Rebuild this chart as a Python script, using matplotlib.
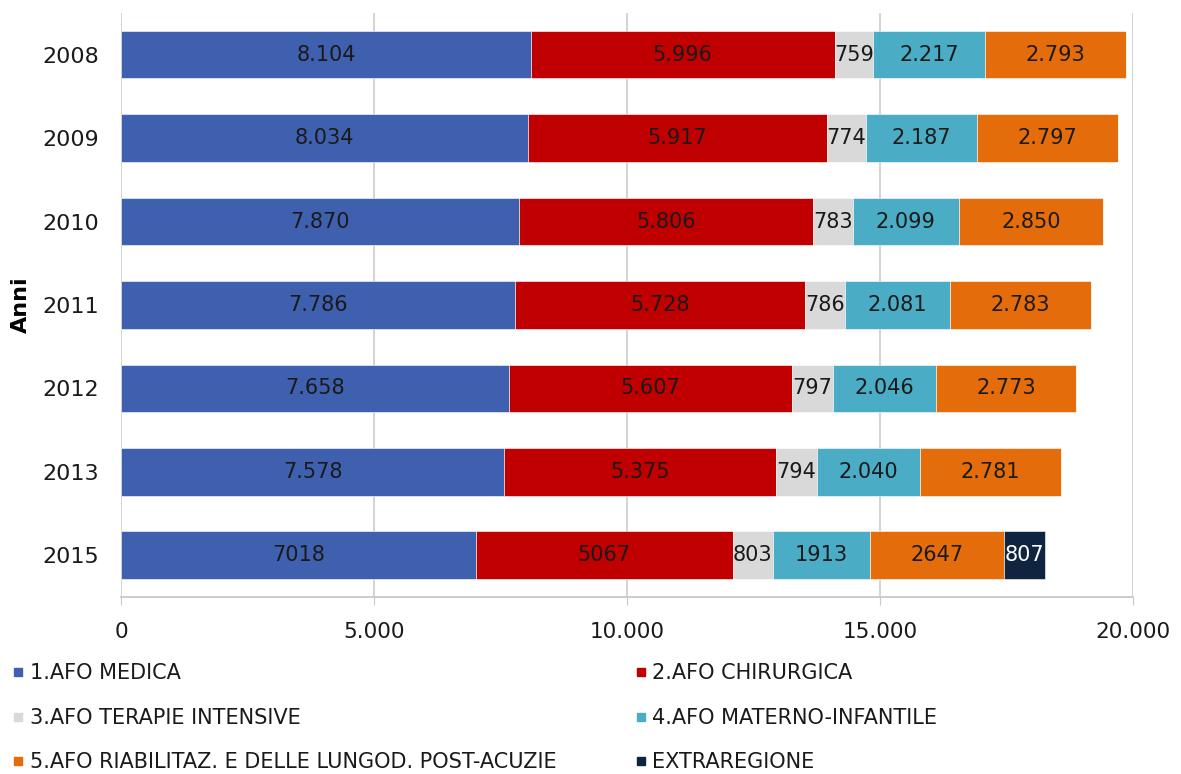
import matplotlib.pyplot as plt
from matplotlib.lines import Line2D

# dati
anni = ['2008', '2009', '2010', '2011', '2012', '2013', '2015']
medica      = [8104, 8034, 7870, 7786, 7658, 7578, 7018]
chirurgica  = [5996, 5917, 5806, 5728, 5607, 5375, 5067]
terapie     = [759, 774, 783, 786, 797, 794, 803]
materno     = [2217, 2187, 2099, 2081, 2046, 2040, 1913]
riabilitaz  = [2793, 2797, 2850, 2783, 2773, 2781, 2647]
extraregione = [0, 0, 0, 0, 0, 0, 807]
separatore = [True, True, True, True, True, True, False]

serie = [medica, chirurgica, terapie, materno, riabilitaz, extraregione]
nomi = ['1.AFO MEDICA', '2.AFO CHIRURGICA', '3.AFO TERAPIE INTENSIVE',
        '4.AFO MATERNO-INFANTILE', '5.AFO RIABILITAZ. E DELLE LUNGOD. POST-ACUZIE',
        'EXTRAREGIONE']
colori = ['#3F5FAF', '#C00000', '#D9D9D9', '#4BACC6', '#E46C0A', '#0F243E']
col_testo = ['#1a1a1a', '#1a1a1a', '#1a1a1a', '#1a1a1a', '#1a1a1a', 'white']

plt.rcParams['font.family'] = ['DejaVu Sans']

figure = plt.figure(figsize=(11.81, 7.74), dpi=100)
axes = figure.add_axes([0.1025, 0.2287, 0.8569, 0.7545])

pos = list(range(len(anni)))
left = [0] * len(anni)
for s in range(len(serie)):
    vals = serie[s]
    axes.barh(pos, vals, left=left, height=0.57, color=colori[s],
              edgecolor='white', linewidth=0.4, zorder=3)
    for i in range(len(anni)):
        v = vals[i]
        if v == 0:
            continue
        if separatore[i]:
            txt = '{:,}'.format(v).replace(',', '.')
        else:
            txt = str(v)
        axes.text(left[i] + v / 2, pos[i], txt, ha='center', va='center',
                  fontsize=15, color=col_testo[s], zorder=4)
        left[i] = left[i] + v

axes.set_xlim(0, 20000)
axes.set_ylim(6.5, -0.5)
axes.set_yticks(pos)
axes.set_yticklabels(anni)
axes.set_xticks([0, 5000, 10000, 15000, 20000])
axes.set_xticklabels(['0', '5.000', '10.000', '15.000', '20.000'])
axes.tick_params(axis='y', length=0, labelsize=16, pad=16, labelcolor='#1a1a1a')
axes.tick_params(axis='x', length=6, color='#C8C8C8', labelsize=15.5, pad=12,
                 labelcolor='#1a1a1a')
axes.grid(axis='x', color='#D0D0D0', linewidth=1.3, zorder=0)
for lato in ['top', 'right', 'left']:
    axes.spines[lato].set_visible(False)
axes.spines['bottom'].set_color('#C8C8C8')
axes.spines['bottom'].set_linewidth(1.3)
axes.set_ylabel('Anni', fontsize=16, fontweight='bold', labelpad=8)

# legenda su due colonne
maniglie = [Line2D([], [], marker='s', linestyle='none', markersize=6,
                   markerfacecolor=c, markeredgecolor=c) for c in colori]
fonte_leg = {'family': ['DejaVu Sans'], 'size': 15}
leg1 = figure.legend([maniglie[0], maniglie[2], maniglie[4]],
                     [nomi[0], nomi[2], nomi[4]], loc='upper left',
                     bbox_to_anchor=(0.011, 0.143), frameon=False, prop=fonte_leg,
                     handlelength=0.5, handletextpad=0.3, labelspacing=1.18,
                     borderaxespad=0, borderpad=0)
leg2 = figure.legend([maniglie[1], maniglie[3], maniglie[5]],
                     [nomi[1], nomi[3], nomi[5]], loc='upper left',
                     bbox_to_anchor=(0.538, 0.143), frameon=False, prop=fonte_leg,
                     handlelength=0.5, handletextpad=0.3, labelspacing=1.18,
                     borderaxespad=0, borderpad=0)
for leg in [leg1, leg2]:
    for t in leg.get_texts():
        t.set_color('#1a1a1a')

figure.savefig('out.png', dpi=100)
